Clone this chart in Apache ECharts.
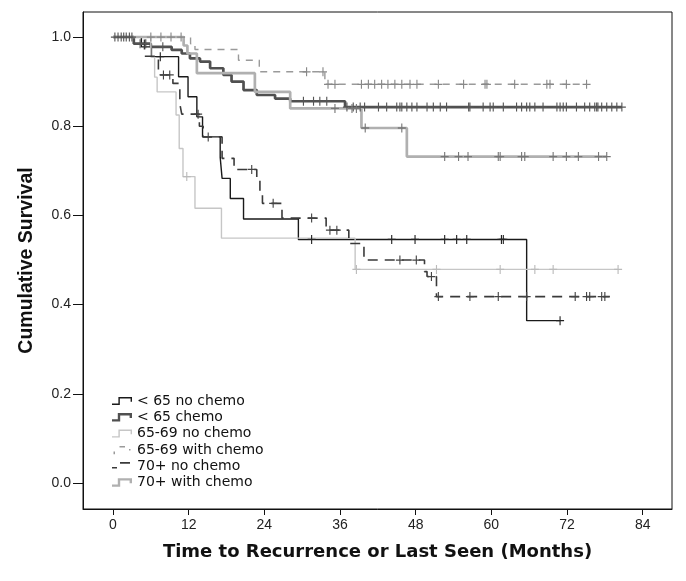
<!DOCTYPE html>
<html>
<head>
<meta charset="utf-8">
<script src="https://cdn.jsdelivr.net/npm/echarts@6.0.0/dist/echarts.min.js"></script>
<style>
html,body{margin:0;padding:0;background:#fff;}
#chart{width:686px;height:581px;}
</style>
</head>
<body>
<div id="chart"></div>
<script>
// ---- Data (Kaplan-Meier step points: time in months, cumulative survival) ----
const xTicks = [0, 12, 24, 36, 48, 60, 72, 84];
const yTicks = [0, 0.2, 0.4, 0.6, 0.8, 1.0];

const lt65NoChemoTime = [0, 4.5, 6.1, 10.4, 11.9, 13.3, 14.2, 17.0, 17.3, 18.6, 20.7, 29.4, 65.6, 70.9];
const lt65NoChemoSurv = [1.0, 0.978, 0.956, 0.911, 0.866, 0.821, 0.776, 0.730, 0.683, 0.638, 0.592, 0.546, 0.364, 0.364];
const lt65NoChemoCensored = [7.5, 31.5, 44.2, 47.9, 52.6, 54.5, 56.1, 61.6, 61.9, 70.9];

const lt65ChemoTime = [0, 3.3, 6.0, 9.3, 10.9, 12.2, 13.8, 15.4, 17.5, 18.8, 20.7, 22.8, 25.7, 28.1, 36.8, 80.7];
const lt65ChemoSurv = [1.0, 0.985, 0.978, 0.971, 0.963, 0.952, 0.945, 0.930, 0.915, 0.900, 0.881, 0.870, 0.862, 0.856, 0.843, 0.843];
const lt65ChemoCensored = [0.3, 0.8, 1.3, 1.7, 2.1, 2.6, 3.0, 4.3, 5.2, 7.9, 30.2, 31.8, 32.8, 33.9, 37.1, 38.1, 39.2, 39.9, 42.1, 43.4, 45.0, 45.5, 45.8, 46.6, 47.4, 48.2, 49.8, 50.8, 51.9, 52.9, 56.4, 56.6, 58.7, 59.8, 60.3, 61.9, 64.0, 64.8, 65.6, 66.1, 66.9, 68.2, 70.4, 70.9, 71.4, 71.9, 73.5, 74.8, 75.6, 76.4, 76.7, 76.9, 77.5, 78.3, 79.1, 79.9, 80.7];

const age6569NoChemoTime = [0, 6.0, 6.6, 7.0, 10.0, 10.5, 11.1, 13.0, 17.2, 38.4, 80.1];
const age6569NoChemoSurv = [1.0, 0.955, 0.910, 0.877, 0.825, 0.750, 0.687, 0.616, 0.549, 0.479, 0.479];
const age6569NoChemoCensored = [11.7, 38.6, 51.3, 61.4, 66.9, 69.8, 80.1];

const age6569ChemoTime = [0, 12.3, 13.0, 19.9, 23.2, 33.6, 75.1];
const age6569ChemoSurv = [1.0, 0.985, 0.972, 0.948, 0.922, 0.894, 0.894];
const age6569ChemoCensored = [6.0, 7.6, 9.2, 10.8, 30.7, 33.3, 34.1, 35.2, 39.4, 40.5, 41.5, 42.6, 43.6, 44.7, 45.8, 47.1, 48.2, 51.6, 55.6, 59.0, 59.3, 63.7, 68.8, 69.3, 71.9, 75.1];

const age70NoChemoTime = [0, 5.0, 7.2, 9.5, 10.6, 10.9, 13.7, 14.3, 17.3, 19.2, 22.8, 23.3, 23.7, 26.8, 33.8, 37.4, 39.8, 49.4, 49.8, 51.3, 78.8];
const age70NoChemoSurv = [1.0, 0.957, 0.915, 0.896, 0.850, 0.827, 0.800, 0.776, 0.728, 0.703, 0.683, 0.650, 0.627, 0.594, 0.567, 0.537, 0.500, 0.474, 0.463, 0.418, 0.418];
const age70NoChemoCensored = [8.0, 9.0, 13.5, 15.1, 22.0, 25.4, 31.5, 34.4, 35.5, 45.5, 48.1, 50.5, 51.6, 56.6, 61.1, 65.6, 73.3, 75.1, 75.6, 77.5, 78.0];

const age70ChemoTime = [0, 11.2, 11.8, 13.3, 22.5, 28.1, 39.4, 46.6, 78.3];
const age70ChemoSurv = [1.0, 0.981, 0.963, 0.919, 0.877, 0.840, 0.796, 0.732, 0.732];
const age70ChemoCensored = [35.2, 37.9, 38.6, 40.0, 45.8, 52.6, 54.8, 56.3, 61.1, 61.4, 64.8, 65.3, 69.8, 71.9, 73.8, 77.0, 78.3];

const seriesNames = ['< 65 no chemo', '< 65 chemo', '65-69 no chemo', '65-69 with chemo', '70+ no chemo', '70+ with chemo'];

// ---- Styles ----
const FONT = 'Arial, "Liberation Sans", Helvetica, sans-serif';
const WIDE = '"DejaVu Sans", Verdana, sans-serif';
const thinStep = 'path://M0,6.8 H6.3 V0.3 H19.7 V5 H18.3 V1.7 H7.7 V8.2 H0 Z';
const thickStep = 'path://M0,6.2 H5.8 V0 H20 V5 H17.6 V2.4 H8.2 V8.6 H0 Z';
const dottedStep = 'path://M1.5,6 H3 V8.6 H1.5 Z M7.5,0.3 H13 V1.8 H7.5 Z M17,3.5 H18.5 V5 H17 Z M0,0 H0.01 V0.01 Z M20,8.6 H19.99 V8.59 Z';
const dashedStep = 'path://M0,5.2 H5 V6.8 H0 Z M8,0.3 H18 V1.9 H8 Z M20,8.6 H19.99 V8.59 Z';
const plusMark = 'path://M4.3,0 H5.7 V4.3 H10 V5.7 H5.7 V10 H4.3 V5.7 H0 V4.3 H4.3 Z';

const curves = [
  {name: seriesNames[0], t: lt65NoChemoTime, s: lt65NoChemoSurv, c: lt65NoChemoCensored, color: '#1a1a1a', width: 1.4, type: 'solid', cColor: '#222', icon: thinStep},
  {name: seriesNames[1], t: lt65ChemoTime, s: lt65ChemoSurv, c: lt65ChemoCensored, color: '#505050', width: 2.7, type: 'solid', cColor: '#555', icon: thickStep},
  {name: seriesNames[2], t: age6569NoChemoTime, s: age6569NoChemoSurv, c: age6569NoChemoCensored, color: '#c6c6c6', width: 1.4, type: 'solid', cColor: '#bbb', icon: thinStep},
  {name: seriesNames[3], t: age6569ChemoTime, s: age6569ChemoSurv, c: age6569ChemoCensored, color: '#9a9a9a', width: 1.4, type: [7, 6], cColor: '#888', icon: dottedStep},
  {name: seriesNames[4], t: age70NoChemoTime, s: age70NoChemoSurv, c: age70NoChemoCensored, color: '#3a3a3a', width: 1.6, type: [10, 7], cColor: '#444', icon: dashedStep},
  {name: seriesNames[5], t: age70ChemoTime, s: age70ChemoSurv, c: age70ChemoCensored, color: '#b0b0b0', width: 2.7, type: 'solid', cColor: '#777', icon: thickStep}
];

function survAt(times, surv, t) {
  let v = surv[0];
  for (let i = 0; i < times.length; i++) { if (times[i] <= t) v = surv[i]; }
  return v;
}

const series = [];
curves.forEach(function (cv, i) {
  series.push({
    name: cv.name, type: 'line', step: 'end', symbol: 'none', silent: true,
    data: cv.t.map(function (t, k) { return [t, cv.s[k]]; }),
    lineStyle: {color: cv.color, width: cv.width, type: cv.type},
    itemStyle: {color: cv.color},
    z: 2 + i
  });
});
curves.forEach(function (cv, i) {
  series.push({
    name: 'censored ' + cv.name, type: 'scatter', silent: true,
    symbol: plusMark, symbolSize: [8, 9],
    data: cv.c.map(function (t) { return [t, survAt(cv.t, cv.s, t)]; }),
    itemStyle: {color: cv.cColor, opacity: 1},
    z: 10 + i
  });
});

const chart = echarts.init(document.getElementById('chart'), null, {renderer: 'canvas'});
chart.setOption({
  animation: false,
  backgroundColor: '#ffffff',
  grid: {left: 83, right: 14, top: 12, bottom: 72, show: true, borderColor: '#111', borderWidth: 1, outerBoundsMode: 'none'},
  legend: {
    orient: 'vertical', left: 112, top: 394, padding: 0,
    itemWidth: 20, itemHeight: 9, itemGap: 2.3,
    selectedMode: false,
    textStyle: {fontFamily: WIDE, fontSize: 14, lineHeight: 14, color: '#111'},
    itemStyle: {borderWidth: 0},
    data: curves.map(function (cv) { return {name: cv.name, icon: cv.icon}; })
  },
  xAxis: {
    type: 'value', min: -4.757, max: 88.65,
    name: 'Time to Recurrence or Last Seen (Months)', nameLocation: 'middle', nameGap: 34, nameMoveOverlap: false,
    nameTextStyle: {fontFamily: WIDE, fontSize: 18, fontWeight: 'bold', color: '#111'},
    axisLine: {show: true, onZero: false, lineStyle: {color: '#111', width: 1}},
    axisTick: {show: true, length: 6, inside: false, customValues: xTicks, lineStyle: {color: '#111'}},
    axisLabel: {customValues: xTicks, margin: 9, fontFamily: FONT, fontSize: 14, color: '#222', showMinLabel: true, showMaxLabel: true},
    splitLine: {show: false}
  },
  yAxis: {
    type: 'value', min: -0.0583, max: 1.0561,
    name: 'Cumulative Survival', nameLocation: 'middle', nameGap: 46, nameMoveOverlap: false,
    nameTextStyle: {fontFamily: FONT, fontSize: 19.5, fontWeight: 'bold', color: '#111'},
    axisLine: {show: true, onZero: false, lineStyle: {color: '#111', width: 1}},
    axisTick: {show: true, length: 10, inside: false, customValues: yTicks, lineStyle: {color: '#111'}},
    axisLabel: {customValues: yTicks, margin: 12, fontFamily: FONT, fontSize: 14, color: '#222',
      formatter: function (v) { return v.toFixed(1); }},
    splitLine: {show: false}
  },
  series: series
});
</script>
</body>
</html>
